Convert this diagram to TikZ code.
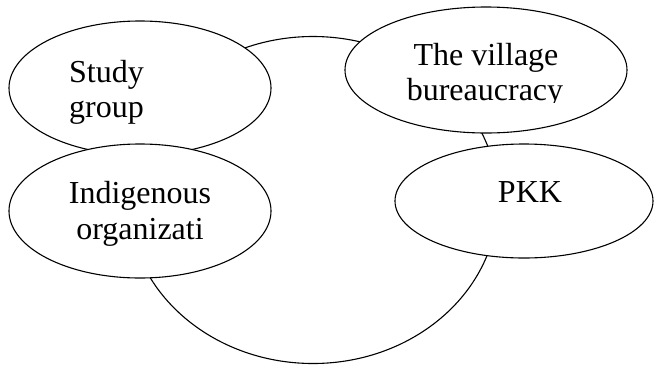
\documentclass[tikz,border=0pt]{standalone}
\usepackage{fontspec}
\setmainfont{Liberation Serif}
\usetikzlibrary{shapes.geometric}
\begin{document}
\begin{tikzpicture}[x=1pt,y=-1pt,
  bubble/.style={draw=black, fill=white, ellipse, line width=1.1pt, inner sep=0pt, outer sep=0pt},
  lbl/.style={inner sep=0pt, anchor=base, font=\fontsize{32}{35}\selectfont},
  lblleft/.style={lbl, anchor=base west}]
\useasboundingbox (0,0) rectangle (654,365);

% central ring behind the groups
\node[bubble, minimum width=370pt, minimum height=327pt] (core) at (313,200) {};

% actor ellipses
\node[bubble, minimum width=262pt, minimum height=134pt] (study) at (140,88) {};
\node[bubble, minimum width=262pt, minimum height=134pt] (indig) at (140,211) {};
\node[bubble, minimum width=282pt, minimum height=126pt] (village) at (486,70) {};
\node[bubble, minimum width=258pt, minimum height=114pt] (pkk) at (524,201) {};

% labels
\node[lblleft] (studyA) at (69,82) {Study};
\node[lblleft] (studyB) at (69,117) {group};
\node[lbl] (indigA) at (140,203) {Indigenous};
\node[lbl] (indigB) at (140,239) {organizati};
\begin{scope}
  \clip (340,0) rectangle (640,102);
  \node[lbl] (villageA) at (486,65) {The village};
  \node[lbl] (villageB) at (485,100) {bureaucracy};
\end{scope}
\node[lbl] (pkkA) at (530,202) {PKK};
\end{tikzpicture}
\end{document}
